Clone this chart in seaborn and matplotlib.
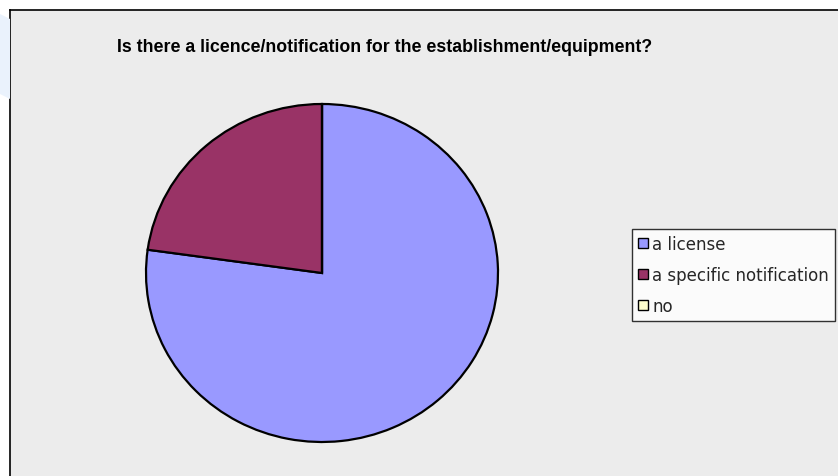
import matplotlib.pyplot as plt
import matplotlib.patches as mpatches
import seaborn as sns

# data
categories = ['a license', 'a specific notification', 'no']
shares = [77.2, 22.8, 0.0]
colors = ['#9999ff', '#993366', '#ffffcc']
title = "Is there a licence/notification for the establishment/equipment?"

sns.set_style('white')
plt.rcParams['font.family'] = ['Liberation Sans', 'DejaVu Sans']

W, H = 838, 477
fig = plt.figure(figsize=(W / 100, H / 100), dpi=100)
fig.patch.set_facecolor('white')

# faint blue shape at the far left
fig.patches.append(mpatches.Polygon([(0, 1 - 15 / H), (10 / W, 1 - 20 / H), (10 / W, 1 - 100 / H), (0, 1 - 95 / H)],
                                    closed=True, transform=fig.transFigure, facecolor='#eaf2fc',
                                    edgecolor='none', zorder=0))

# grey chart area with black border
bg = fig.add_axes([10 / W, 0, 1 - 10 / W, 1 - 11 / H])
bg.set_facecolor('#ececec')
bg.set_xticks([])
bg.set_yticks([])
for side in ['left', 'top']:
    bg.spines[side].set_color('black')
    bg.spines[side].set_linewidth(1.2)
for side in ['right', 'bottom']:
    bg.spines[side].set_visible(False)

fig.text(117 / W, 1 - 47 / H, title, fontsize=12.8, fontweight='bold', color='black',
         va='center', ha='left')

# pie
ax = fig.add_axes([146 / W, (H - 443) / H, 352 / W, 338 / H])
ax.patch.set_visible(False)
wedges, _ = ax.pie(shares, colors=colors, startangle=90, counterclock=False,
                   wedgeprops=dict(edgecolor='black', linewidth=1.6))
ax.set_xlim(-1.0, 1.0)
ax.set_ylim(-1.0, 1.0)
ax.set_aspect('auto')
ax.axis('off')

handles = [mpatches.Patch(facecolor=c, edgecolor='black', linewidth=1) for c in colors]
leg = fig.legend(handles, categories, loc='upper left', bbox_to_anchor=(632 / W, 1 - 230 / H),
                 prop={'family': 'DejaVu Sans', 'size': 12}, frameon=True, fancybox=False,
                 handlelength=0.6, handleheight=0.6, handletextpad=0.25, labelspacing=0.78,
                 borderpad=0.35, borderaxespad=0)
leg.get_frame().set_edgecolor('black')
leg.get_frame().set_facecolor('white')
leg.get_frame().set_linewidth(1)

fig.savefig('out.png', dpi=100)
